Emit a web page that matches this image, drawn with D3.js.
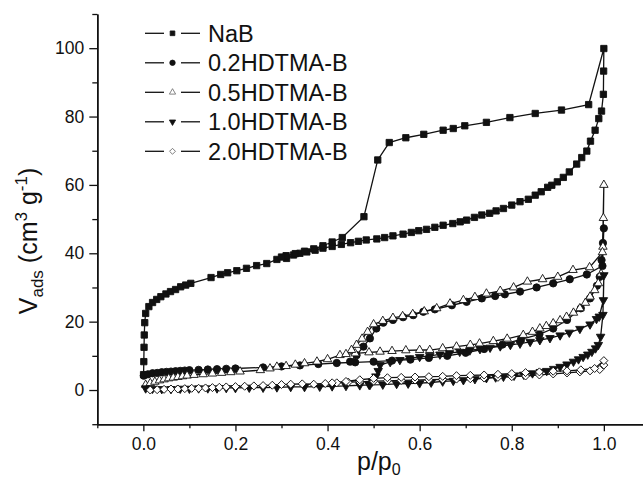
<!DOCTYPE html>
<html>
<head>
<meta charset="utf-8">
<script src="https://d3js.org/d3.v7.min.js"></script>
<style>
  body { margin: 0; background: #fff; }
  text { font-family: "Liberation Sans", Arial, sans-serif; fill: #111; }
</style>
</head>
<body>
<div class="chart"></div>
<script>
// isotherm data: adsorption branch first, then desorption
let nabP = [0.0005, 0.001, 0.0015, 0.002, 0.003, 0.005, 0.012, 0.02, 0.029, 0.038, 0.049, 0.059, 0.07, 0.081, 0.092, 0.103,
  0.147, 0.168, 0.183, 0.203, 0.224, 0.246, 0.268, 0.29, 0.311, 0.326, 0.34, 0.355, 0.373, 0.39, 0.41, 0.43, 0.45, 0.467,
  0.484, 0.507, 0.524, 0.542, 0.564, 0.582, 0.598, 0.615, 0.633, 0.651, 0.672, 0.688, 0.702, 0.719, 0.735, 0.752, 0.766,
  0.782, 0.8, 0.818, 0.836, 0.851, 0.864, 0.878, 0.887, 0.899, 0.912, 0.925, 0.941, 0.952, 0.963, 0.971, 0.981, 0.989,
  0.995, 0.999, 0.9995, 1.0,
  0.967, 0.908, 0.851, 0.796, 0.745, 0.698, 0.673, 0.651, 0.609, 0.57, 0.534, 0.509, 0.479, 0.432, 0.41, 0.39, 0.37,
  0.35, 0.33, 0.31, 0.30];
let nabV = [4.5, 8.3, 12.5, 16.1, 19.7, 22.4, 24.4, 25.6, 26.5, 27.3, 28.1, 28.8, 29.4, 30.2, 30.7, 31.2,
  32.9, 33.8, 34.3, 34.9, 35.6, 36.4, 37.0, 38.2, 38.5, 39.5, 40.0, 40.4, 40.9, 41.5, 42.0, 42.6, 43.1, 43.5,
  43.9, 44.2, 44.6, 45.1, 45.6, 46.1, 46.6, 47.0, 47.6, 48.2, 48.7, 49.2, 49.7, 50.5, 51.2, 51.7, 52.4,
  53.1, 54.1, 55.1, 55.8, 57.0, 58.0, 59.3, 59.9, 60.9, 62.2, 63.8, 66.1, 68.0, 69.9, 72.8, 76.0, 79.4,
  81.6, 86.5, 93.3, 99.9,
  83.5, 81.9, 80.9, 79.7, 78.3, 77.3, 76.5, 76.0, 74.8, 73.8, 72.4, 67.3, 50.7, 44.6, 43.3, 42.2, 41.3,
  40.6, 39.9, 39.3, 38.9];

let b02P = [0.001, 0.01, 0.02, 0.03, 0.04, 0.05, 0.06, 0.07, 0.08, 0.09, 0.1, 0.12, 0.14, 0.16, 0.18, 0.2, 0.26, 0.3,
  0.34, 0.38, 0.42, 0.46, 0.5, 0.54, 0.58, 0.62, 0.66, 0.7, 0.74, 0.78, 0.82, 0.86, 0.89, 0.92, 0.95, 0.97, 0.985,
  0.991, 0.995, 0.998, 1.0,
  0.997, 0.963, 0.926, 0.89, 0.854, 0.818, 0.785, 0.764, 0.735, 0.702, 0.67, 0.633, 0.608, 0.586, 0.564, 0.542,
  0.521, 0.506, 0.492, 0.478, 0.463, 0.449];
let b02V = [4.2, 4.6, 4.9, 5.0, 5.2, 5.3, 5.4, 5.5, 5.6, 5.7, 5.8, 5.9, 6.0, 6.1, 6.2, 6.3, 6.6, 6.9,
  7.2, 7.6, 7.9, 8.1, 8.3, 8.6, 8.9, 9.4, 10.0, 10.9, 12.0, 13.3, 14.8, 16.3, 18.0, 20.5, 23.9, 26.8, 30.5,
  33.1, 38.0, 43.0, 47.3,
  36.3, 33.8, 32.4, 31.2, 30.0, 28.8, 28.0, 27.5, 26.8, 25.8, 24.8, 23.6, 22.9, 21.9, 21.3, 20.5,
  19.7, 18.0, 15.1, 12.7, 10.2, 8.3];

let b05P = [0.005, 0.015, 0.025, 0.035, 0.045, 0.055, 0.065, 0.075, 0.085, 0.095, 0.11, 0.13, 0.15, 0.17, 0.19, 0.21,
  0.254, 0.275, 0.29, 0.31, 0.33, 0.35, 0.377, 0.4, 0.427, 0.46, 0.49, 0.514, 0.54, 0.57, 0.6, 0.622, 0.65, 0.68,
  0.71, 0.73, 0.76, 0.79, 0.825, 0.845, 0.861, 0.875, 0.89, 0.905, 0.919, 0.934, 0.948, 0.96, 0.97, 0.98, 0.988,
  0.994, 0.998, 0.999, 1.0,
  0.997, 0.969, 0.933, 0.9, 0.867, 0.834, 0.804, 0.775, 0.745, 0.72, 0.695, 0.666, 0.637, 0.61, 0.585, 0.563,
  0.542, 0.52, 0.5, 0.487, 0.475, 0.463, 0.452, 0.44];
let b05V = [1.5, 2.0, 2.4, 2.8, 3.1, 3.4, 3.6, 3.8, 4.0, 4.2, 4.4, 4.6, 4.8, 5.0, 5.2, 5.4,
  5.8, 6.3, 6.8, 7.0, 7.4, 7.8, 8.3, 9.0, 10.2, 10.7, 11.0, 11.2, 11.4, 11.6, 11.7, 11.7, 12.2, 12.7,
  13.2, 13.6, 14.3, 15.0, 16.1, 17.0, 18.0, 18.7, 19.5, 20.4, 21.4, 22.6, 23.9, 25.5, 27.3, 29.2, 31.2,
  34.0, 41.9, 50.3, 60.0,
  40.3, 35.9, 35.1, 33.1, 32.4, 31.7, 30.0, 29.0, 28.2, 27.2, 26.3, 25.3, 23.9, 23.0, 22.2, 21.6,
  21.1, 20.2, 19.2, 17.0, 15.0, 13.2, 11.7, 10.5];

let b10P = [0.005, 0.02, 0.04, 0.06, 0.08, 0.1, 0.12, 0.14, 0.16, 0.18, 0.2, 0.23, 0.26, 0.29, 0.32, 0.35, 0.383,
  0.41, 0.44, 0.47, 0.492, 0.52, 0.55, 0.575, 0.6, 0.625, 0.65, 0.673, 0.695, 0.72, 0.745, 0.765, 0.782, 0.805,
  0.826, 0.845, 0.862, 0.876, 0.891, 0.905, 0.92, 0.934, 0.945, 0.955, 0.965, 0.974, 0.982, 0.988, 0.993, 0.998, 1.0,
  0.999, 0.99, 0.984, 0.97, 0.948, 0.925, 0.905, 0.883, 0.861, 0.84, 0.818, 0.797, 0.775, 0.753, 0.731, 0.709,
  0.687, 0.665, 0.644, 0.622, 0.6, 0.578, 0.557, 0.536, 0.514, 0.51, 0.505, 0.497, 0.49];
let b10V = [0.5, 0.4, 0.3, 0.3, 0.4, 0.4, 0.5, 0.5, 0.5, 0.6, 0.6, 0.7, 0.7, 0.8, 0.9, 0.9, 1.0,
  1.1, 1.2, 1.4, 1.5, 1.6, 1.8, 1.9, 2.0, 2.2, 2.5, 2.7, 2.9, 3.2, 3.5, 3.7, 3.9, 4.2,
  4.5, 4.9, 5.3, 5.6, 6.2, 6.8, 7.5, 8.3, 9.0, 9.7, 10.4, 11.2, 12.2, 13.2, 15.6, 22.0, 33.6,
  26.3, 21.5, 20.8, 19.2, 17.9, 16.8, 16.0, 15.2, 14.6, 14.1, 13.6, 13.2, 12.8, 12.4, 12.0, 11.6,
  11.2, 10.8, 10.4, 10.0, 9.7, 9.3, 8.8, 8.2, 7.3, 5.6, 4.0, 2.5, 1.6];

let b20P = [0.015, 0.03, 0.045, 0.06, 0.075, 0.09, 0.105, 0.12, 0.135, 0.15, 0.165, 0.18, 0.2, 0.22, 0.24, 0.26,
  0.28, 0.3, 0.32, 0.345, 0.37, 0.395, 0.42, 0.445, 0.47, 0.5, 0.53, 0.56, 0.59, 0.62, 0.65, 0.68, 0.71, 0.74,
  0.77, 0.8, 0.83, 0.86, 0.89, 0.92, 0.948, 0.97, 0.991, 1.0, 1.0,
  0.98, 0.95, 0.92, 0.89, 0.86, 0.83, 0.8, 0.77, 0.74, 0.71, 0.68, 0.65, 0.62, 0.59, 0.56, 0.53, 0.5, 0.47,
  0.44, 0.41];
let b20V = [0.0, 0.1, 0.2, 0.3, 0.3, 0.4, 0.5, 0.5, 0.6, 0.7, 0.8, 0.9, 1.0, 1.1, 1.2, 1.3,
  1.4, 1.6, 1.7, 1.8, 1.7, 1.9, 2.1, 2.3, 2.4, 2.6, 2.7, 2.8, 2.9, 3.0, 3.1, 3.2, 3.3, 3.5,
  3.7, 3.9, 4.1, 4.4, 4.7, 5.0, 5.3, 5.6, 6.0, 7.3, 8.6,
  6.3, 5.9, 5.6, 5.5, 5.3, 5.1, 4.8, 4.6, 4.4, 4.3, 4.2, 4.0, 3.9, 3.8, 3.7, 3.6, 3.4, 3.0,
  2.5, 2.1];

let seriesNames = ['NaB', '0.2HDTMA-B', '0.5HDTMA-B', '1.0HDTMA-B', '2.0HDTMA-B'];
let seriesP = [nabP, b02P, b05P, b10P, b20P];
let seriesV = [nabV, b02V, b05V, b10V, b20V];

let xTicks = [0.0, 0.2, 0.4, 0.6, 0.8, 1.0];
let yTicks = [0, 20, 40, 60, 80, 100];

let width = 643, height = 477;

let svg = d3.select('.chart').append('svg')
    .attr('width', width)
    .attr('height', height);

let x = d3.scaleLinear().domain([-0.1, 1.1]).range([97.3, 649.9]);
let y = d3.scaleLinear().domain([-10, 110]).range([424.2, 14]);

/////// AXES ///////////////////////////////////////

let fmt1 = d3.format('.1f');

svg.append('g')
    .attr('transform', `translate(0,${y(-10)})`)
    .call(d3.axisBottom(x).tickValues(xTicks).tickFormat(fmt1).tickSizeOuter(0).tickSizeInner(7).tickPadding(6));
svg.append('g')
    .attr('transform', `translate(0,${y(-10)})`)
    .call(d3.axisBottom(x).tickValues(d3.range(-0.1, 1.15, 0.2)).tickFormat('').tickSizeOuter(0).tickSizeInner(4));

svg.append('g')
    .attr('transform', `translate(${x(-0.1)},0)`)
    .call(d3.axisLeft(y).tickValues(yTicks).tickSizeOuter(0).tickSizeInner(8).tickPadding(5));
svg.append('g')
    .attr('transform', `translate(${x(-0.1)},0)`)
    .call(d3.axisLeft(y).tickValues(d3.range(-10, 111, 20)).tickFormat('').tickSizeOuter(0).tickSizeInner(5));

svg.selectAll('.domain').attr('stroke', '#111').attr('stroke-width', 1.5);
svg.selectAll('.tick line').attr('stroke', '#111').attr('stroke-width', 1.3);
svg.selectAll('.tick text').style('font-size', '17.5px').attr('fill', '#111');

// axis titles
let yTitle = svg.append('text')
    .attr('transform', 'translate(37,241) rotate(-90)')
    .attr('text-anchor', 'middle')
    .style('font-size', '25px');
yTitle.append('tspan').text('V');
yTitle.append('tspan').attr('dy', 6).style('font-size', '17px').text('ads');
yTitle.append('tspan').attr('dy', -6).text(' (cm');
yTitle.append('tspan').attr('dy', -10).style('font-size', '17px').text('3');
yTitle.append('tspan').attr('dy', 10).text(' g');
yTitle.append('tspan').attr('dy', -10).style('font-size', '17px').text('-1');
yTitle.append('tspan').attr('dy', 10).text(')');

let xTitle = svg.append('text')
    .attr('x', 357)
    .attr('y', 470)
    .style('font-size', '25px');
xTitle.append('tspan').text('p/p');
xTitle.append('tspan').attr('dy', 5).style('font-size', '16px').text('0');

/////// SERIES ///////////////////////////////////////

let shapes = [
  { type: d3.symbolSquare, size: 40, fill: '#111', rot: 0 },
  { type: d3.symbolCircle, size: 42, fill: '#111', rot: 0 },
  { type: d3.symbolTriangle, size: 31, fill: '#fff', rot: 0 },
  { type: d3.symbolTriangle, size: 31, fill: '#111', rot: 180 },
  { type: d3.symbolSquare, size: 32, fill: '#fff', rot: 45 }
];

let line = d3.line()
    .x(d => x(d.p))
    .y(d => y(d.v));

seriesNames.forEach((name, i) => {
  let data = seriesP[i].map((p, j) => ({ p: p, v: seriesV[i][j] }));
  let g = svg.append('g').attr('class', 'series');
  g.append('path')
      .datum(data)
      .attr('d', line)
      .attr('fill', 'none')
      .attr('stroke', '#111')
      .attr('stroke-width', 1.3);
  let sym = d3.symbol().type(shapes[i].type).size(shapes[i].size);
  g.selectAll('path.mark')
      .data(data)
    .enter().append('path')
      .attr('class', 'mark')
      .attr('d', sym)
      .attr('transform', d => `translate(${x(d.p)},${y(d.v)}) rotate(${shapes[i].rot})`)
      .attr('fill', shapes[i].fill)
      .attr('stroke', '#111')
      .attr('stroke-width', 0.9);
});

/////// LEGEND ///////////////////////////////////////

let legend = svg.append('g').attr('class', 'legend');
seriesNames.forEach((name, i) => {
  let ly = 33.3 + i * 29.5;
  let row = legend.append('g').attr('transform', `translate(0,${ly})`);
  row.append('line').attr('x1', 145).attr('x2', 164).attr('y1', 0).attr('y2', 0)
      .attr('stroke', '#111').attr('stroke-width', 1.3);
  row.append('line').attr('x1', 181).attr('x2', 200).attr('y1', 0).attr('y2', 0)
      .attr('stroke', '#111').attr('stroke-width', 1.3);
  row.append('path')
      .attr('d', d3.symbol().type(shapes[i].type).size(shapes[i].size * 0.55))
      .attr('transform', `translate(172.5,0) rotate(${shapes[i].rot})`)
      .attr('fill', shapes[i].fill)
      .attr('stroke', i == 2 || i == 4 ? '#666' : '#111')
      .attr('stroke-width', 0.8);
  row.append('text')
      .attr('x', 208)
      .attr('y', 8.5)
      .style('font-size', '23.5px')
      .text(name);
});
</script>
</body>
</html>
